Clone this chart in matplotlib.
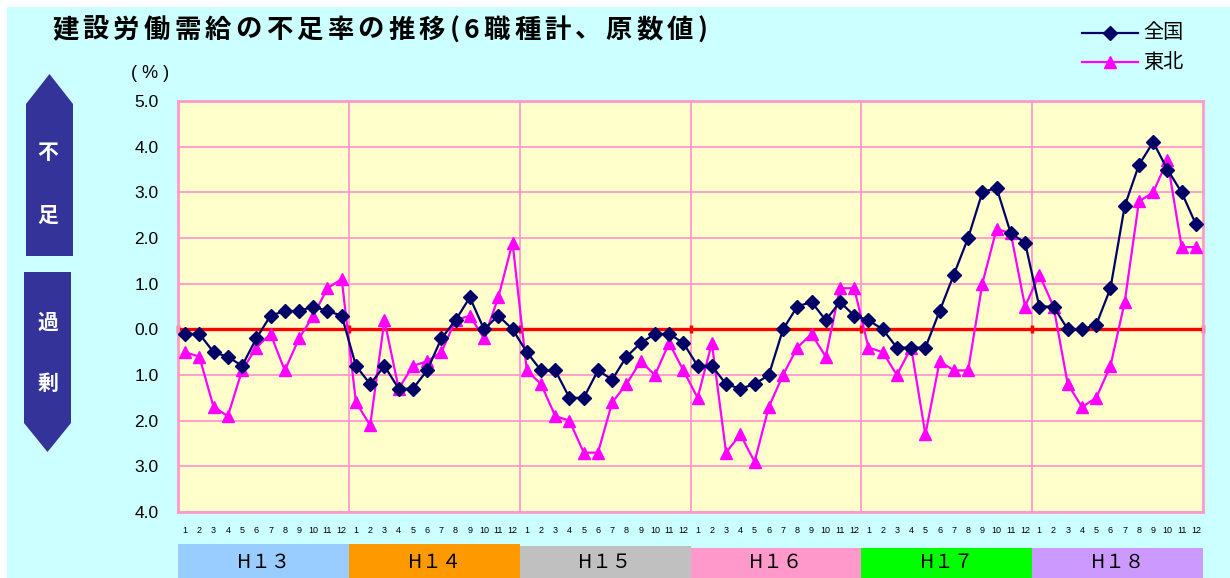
import matplotlib
matplotlib.use("Agg")
import matplotlib.pyplot as plt
from matplotlib.patches import Polygon, Rectangle
from matplotlib.lines import Line2D
import numpy as np

# ---- data -------------------------------------------------------------
years = ["H１３", "H１４", "H１５", "H１６", "H１７", "H１８"]
year_colors = ["#99CCFF", "#FF9900", "#C0C0C0", "#FF99CC", "#00FF00", "#CC99FF"]
months = [str(m) for m in range(1, 13)]

zenkoku = [
    -0.1, -0.1, -0.5, -0.6, -0.8, -0.2, 0.3, 0.4, 0.4, 0.5, 0.4, 0.3,
    -0.8, -1.2, -0.8, -1.3, -1.3, -0.9, -0.2, 0.2, 0.7, 0.0, 0.3, 0.0,
    -0.5, -0.9, -0.9, -1.5, -1.5, -0.9, -1.1, -0.6, -0.3, -0.1, -0.1, -0.3,
    -0.8, -0.8, -1.2, -1.3, -1.2, -1.0, 0.0, 0.5, 0.6, 0.2, 0.6, 0.3,
    0.2, 0.0, -0.4, -0.4, -0.4, 0.4, 1.2, 2.0, 3.0, 3.1, 2.1, 1.9,
    0.5, 0.5, 0.0, 0.0, 0.1, 0.9, 2.7, 3.6, 4.1, 3.5, 3.0, 2.3,
]
tohoku = [
    -0.5, -0.6, -1.7, -1.9, -0.9, -0.4, -0.1, -0.9, -0.2, 0.3, 0.9, 1.1,
    -1.6, -2.1, 0.2, -1.3, -0.8, -0.7, -0.5, 0.2, 0.3, -0.2, 0.7, 1.9,
    -0.9, -1.2, -1.9, -2.0, -2.7, -2.7, -1.6, -1.2, -0.7, -1.0, -0.3, -0.9,
    -1.5, -0.3, -2.7, -2.3, -2.9, -1.7, -1.0, -0.4, -0.1, -0.6, 0.9, 0.9,
    -0.4, -0.5, -1.0, -0.4, -2.3, -0.7, -0.9, -0.9, 1.0, 2.2, 2.1, 0.5,
    1.2, 0.5, -1.2, -1.7, -1.5, -0.8, 0.6, 2.8, 3.0, 3.7, 1.8, 1.8,
]
y_ticks = [5, 4, 3, 2, 1, 0, -1, -2, -3, -4]
title = "建設労働需給の不足率の推移(6職種計、原数値)"

# ---- figure -----------------------------------------------------------
W, H = 1230, 578
fig = plt.figure(figsize=(W / 100, H / 100), dpi=100)
fig.patch.set_facecolor("white")


def fx(x):
    return x / W


def fy(y):
    return 1 - y / H


jp = ["Noto Sans CJK JP", "DejaVu Sans"]
latin = ["Liberation Sans", "DejaVu Sans"]

# cyan backdrop
fig.add_artist(Rectangle((fx(7), 0), 1 - fx(7), fy(7), transform=fig.transFigure,
                         facecolor="#CCFFFF", edgecolor="none", zorder=0))

# plot area
left, right, top, bottom = 178, 1203, 101, 512
ax = fig.add_axes([fx(left), fy(bottom), fx(right - left), fy(top) - fy(bottom)])
ax.set_facecolor("#FFFFCC")

n = len(zenkoku)
x = np.arange(n)
ax.set_xlim(-0.5, n - 0.5)
ax.set_ylim(-4, 5)

grid_color = "#FF99CC"
for yv in y_ticks:
    ax.axhline(yv, color=grid_color, lw=1.3, zorder=1)
for k in range(1, len(years)):
    ax.axvline(12 * k - 0.5, color=grid_color, lw=1.3, zorder=1)
for s in ax.spines.values():
    s.set_color(grid_color)
    s.set_linewidth(2)

# zero line with small ticks at year boundaries
ax.axhline(0, color="#FF0000", lw=2.4, zorder=2)
ax.vlines([12 * k - 0.5 for k in range(len(years) + 1)], -0.09, 0.09,
          color="#FF0000", lw=2.5, zorder=2, clip_on=False)

ax.plot(x, zenkoku, color="#000066", lw=1.6, marker="D", markersize=7,
        markerfacecolor="#000066", markeredgecolor="#000066", zorder=4)
ax.plot(x, tohoku, color="#FF00FF", lw=1.6, marker="^", markersize=9,
        markerfacecolor="#FF00FF", markeredgecolor="#FF00FF", zorder=3)

ax.set_xticks([])
ax.set_yticks(y_ticks)
ax.set_yticklabels([f"{abs(v):.1f}" for v in y_ticks], fontfamily=latin, fontsize=12.5)
ax.tick_params(axis="y", length=0, pad=14)

# month labels
for i in range(n):
    ax.text(i, -4.4, months[i % 12], ha="center", va="center", fontsize=6.5,
            fontfamily=latin, color="black")

# year bands
band_tops = [544, 544, 546, 548, 548, 548]
for k, (lab, col) in enumerate(zip(years, year_colors)):
    x0 = left + (right - left) * 12 * k / n
    x1 = left + (right - left) * 12 * (k + 1) / n
    fig.add_artist(Rectangle((fx(x0), 0), fx(x1 - x0), fy(band_tops[k]),
                             transform=fig.transFigure, facecolor=col,
                             edgecolor="none", zorder=1))
    fig.text(fx((x0 + x1) / 2), fy(562), lab, ha="center", va="center",
             fontsize=14, fontfamily=jp, color="black")

# title, set character by character with extra tracking
renderer = fig.canvas.get_renderer()
cx = 52
for ch in title:
    t = fig.text(fx(cx), fy(30), ch, ha="left", va="center", fontsize=19,
                 fontweight="bold", fontfamily=jp)
    w = t.get_window_extent(renderer).width
    cx += w + 4.2

fig.text(fx(150), fy(73), "( % )", ha="center", va="center", fontsize=13,
         fontfamily=latin)

# legend
for yy, col, mk, ms, lab in [(33, "#000066", "D", 7, "全国"),
                             (62, "#FF00FF", "^", 9, "東北")]:
    fig.add_artist(Line2D([fx(1082), fx(1138)], [fy(yy), fy(yy)],
                          transform=fig.transFigure, color=col, lw=1.6))
    fig.add_artist(Line2D([fx(1110)], [fy(yy)], transform=fig.transFigure,
                          color=col, marker=mk, markersize=ms, lw=0))
    fig.text(fx(1143), fy(yy), lab, ha="left", va="center", fontsize=14.5,
             fontfamily=jp)

# shortage / surplus arrows
navy = "#333399"
up = [(26, 104), (49.5, 74), (73, 104), (73, 256), (26, 256)]
down = [(24, 272), (71, 272), (71, 423), (47.5, 452), (24, 423)]
for pts in (up, down):
    fig.add_artist(Polygon([(fx(a), fy(b)) for a, b in pts], closed=True,
                           transform=fig.transFigure, facecolor=navy,
                           edgecolor="none", zorder=1))
for ch, yy in [("不", 153), ("足", 215), ("過", 322), ("剰", 383)]:
    fig.text(fx(48), fy(yy), ch, ha="center", va="center", fontsize=15,
             fontweight="bold", color="white", fontfamily=jp)

fig.savefig("out.png", dpi=100, facecolor=fig.get_facecolor())
